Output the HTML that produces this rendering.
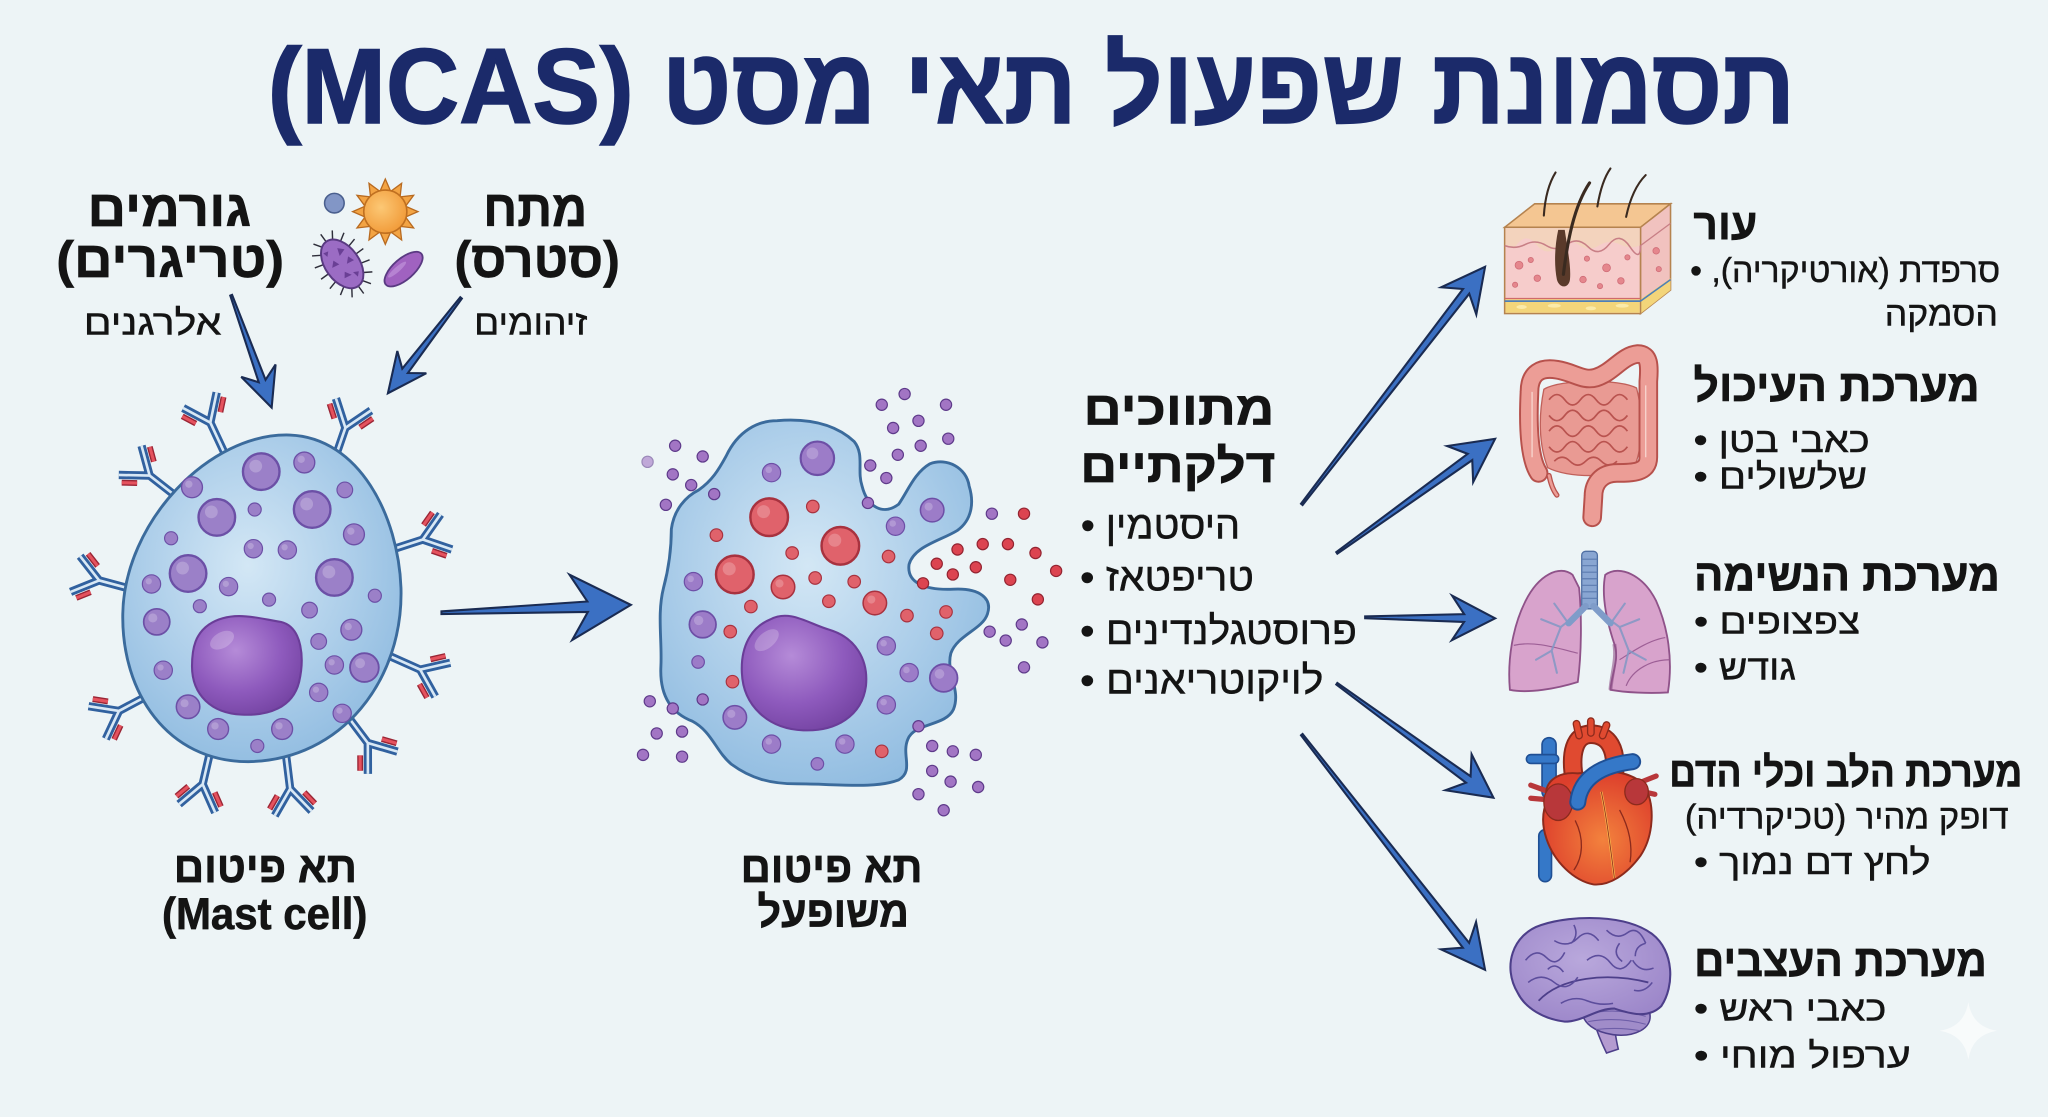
<!DOCTYPE html>
<html lang="he">
<head>
<meta charset="utf-8">
<style>
html,body{margin:0;padding:0;background:#edf4f6;}
body{width:2048px;height:1117px;overflow:hidden;position:relative;}
#stage{position:absolute;left:0;top:0;width:1568px;height:855px;transform-origin:0 0;transform:scale(1.306122,1.306433);background:#edf4f6;}
#art{position:absolute;left:0;top:0;}
.t{position:absolute;white-space:nowrap;line-height:1;font-family:"Liberation Sans","DejaVu Sans",sans-serif;color:#141414;direction:rtl;text-align:right;-webkit-text-stroke:0.35px #141414;}
.t span{display:inline-block;white-space:nowrap;transform-origin:100% 50%;}
.t.l{direction:ltr;text-align:left;}
.t.l span{transform-origin:0 50%;}
.b{font-weight:bold;-webkit-text-stroke:0.5px #141414;}
</style>
</head>
<body>
<div id="stage">
<svg id="art" width="1568" height="855" viewBox="0 0 1568 855" xmlns="http://www.w3.org/2000/svg">
<defs>
  <radialGradient id="cellG" cx="45%" cy="40%" r="65%">
    <stop offset="0" stop-color="#d3e7f5"/>
    <stop offset="0.6" stop-color="#abcde9"/>
    <stop offset="1" stop-color="#8fbbe0"/>
  </radialGradient>
  <radialGradient id="nucG" cx="40%" cy="35%" r="70%">
    <stop offset="0" stop-color="#b58bd8"/>
    <stop offset="0.6" stop-color="#8e5abd"/>
    <stop offset="1" stop-color="#7544a3"/>
  </radialGradient>
  <radialGradient id="sunG" cx="40%" cy="40%" r="65%">
    <stop offset="0" stop-color="#fcc875"/>
    <stop offset="1" stop-color="#f19a38"/>
  </radialGradient>
  <radialGradient id="brainG" cx="45%" cy="40%" r="70%">
    <stop offset="0" stop-color="#b9a8dc"/>
    <stop offset="1" stop-color="#9a84c8"/>
  </radialGradient>
  <radialGradient id="heartG" cx="55%" cy="60%" r="60%">
    <stop offset="0" stop-color="#f3823d"/>
    <stop offset="1" stop-color="#dd3f2c"/>
  </radialGradient>
</defs>

<!-- top icons -->
<g id="icons">
  <circle cx="256" cy="155.5" r="7.5" fill="#8296c6" stroke="#4a5f8e" stroke-width="1.2"/>
  <g id="sun"></g>
  <g id="bact" transform="translate(262,202) rotate(54)">
    <g id="bactHair"></g>
    <ellipse cx="0" cy="0" rx="21" ry="13" fill="#9b6cc4" stroke="#5a3a82" stroke-width="1.5"/>
    <polygon points="-12,-4 -8,-8 -6,-2" fill="#6a3f95"/>
    <polygon points="-2,-7 3,-9 2,-3" fill="#6a3f95"/>
    <polygon points="6,2 11,-1 10,5" fill="#6a3f95"/>
    <polygon points="-6,4 -1,2 -2,8" fill="#6a3f95"/>
    <polygon points="12,-7 15,-4 10,-3" fill="#6a3f95"/>
    <polygon points="-14,3 -11,6 -15,7" fill="#6a3f95"/>
  </g>
  <g transform="translate(309,206) rotate(-41)">
    <ellipse cx="0" cy="0" rx="18" ry="8" fill="#a062c0" stroke="#5a3a82" stroke-width="1.4"/>
    <ellipse cx="-4" cy="-3" rx="9" ry="2" fill="#c49ade" opacity="0.6"/>
  </g>
</g>

<!-- left mast cell -->
<g id="abs"></g>
<path d="M 222 333 C 275 335, 305 395, 307 450 C 309 520, 262 582, 190 583 C 128 583, 93 530, 94 470 C 95 400, 160 331, 222 333 Z" fill="url(#cellG)" stroke="#3b6b9c" stroke-width="2.2"/>
<g id="lgran"></g>
<path d="M160 478 C178 466, 200 474, 215 476 C232 480, 233 505, 229 522 C224 542, 205 548, 185 547 C162 546, 147 532, 147 510 C147 495, 150 485, 160 478 Z" fill="url(#nucG)" stroke="#6a3d98" stroke-width="1.6"/>
<ellipse cx="170" cy="490" rx="10" ry="6" fill="#ffffff" opacity="0.22" transform="rotate(-30 170 490)"/>

<!-- activated mast cell -->
<path d="M 556 349 C 565 330, 580 322, 595 322 C 620 320, 640 325, 654 338 C 662 348, 656 360, 660 372 C 664 388, 676 395, 688 386 C 695 376, 700 362, 712 355 C 725 350, 740 358, 742 372 C 746 385, 744 398, 733 406 C 720 414, 700 418, 696 432 C 694 446, 708 452, 730 451 C 750 450, 760 458, 756 470 C 752 482, 733 486, 728 500 C 724 515, 736 528, 730 543 C 724 556, 700 553, 695 566 C 690 578, 700 590, 688 597 C 670 604, 640 600, 610 600 C 590 600, 575 596, 560 585 C 548 575, 545 560, 530 552 C 512 545, 505 530, 506 510 C 507 490, 503 470, 508 450 C 512 435, 514 420, 514 405 C 516 390, 525 380, 535 375 C 545 368, 550 360, 556 349 Z" fill="url(#cellG)" stroke="#3b6b9c" stroke-width="2.2"/>
<g id="mgran"></g>
<path d="M590 474 C605 466, 620 478, 635 482 C655 488, 665 505, 663 525 C660 548, 640 560, 615 559 C588 558, 569 540, 568 515 C567 495, 575 480, 590 474 Z" fill="url(#nucG)" stroke="#6a3d98" stroke-width="1.6"/>
<ellipse cx="587" cy="490" rx="11" ry="6" fill="#ffffff" opacity="0.22" transform="rotate(-40 587 490)"/>
<g id="mdots"></g>

<!-- arrows -->
<g id="arrows"></g>

<!-- skin -->
<g id="skin">
  <polygon points="1152,174 1256,174 1279,156 1175,156" fill="#f4c692" stroke="#b5834f" stroke-width="1.2"/>
  <polygon points="1256,174 1279,156 1279,222 1256,240" fill="#f1c2bf" stroke="#b5834f" stroke-width="1.2"/>
  <polygon points="1256,229 1279,213 1279,222 1256,240" fill="#f3d57a"/>
  <rect x="1152" y="174" width="104" height="66" fill="#f6cccb" stroke="#b5834f" stroke-width="1.2"/>
  <path d="M1152.6 174.6 H1255.4 V188 Q1248 191 1240 187 T1224 188 T1208 187 T1192 189 T1176 187 T1160 189 L1152.6 188 Z" fill="#f3d3bd"/>
  <path d="M1152 188 Q1160 191 1168 187 T1184 188 T1200 187 T1216 189 T1232 187 T1248 189 T1256 188" fill="none" stroke="#c87f86" stroke-width="1.2"/>
  <path d="M1256 188 L1279 171" stroke="#c87f86" stroke-width="1" fill="none"/>
  <rect x="1152.6" y="229" width="102.8" height="10.4" fill="#f3d57a"/>
  <line x1="1152" y1="228.5" x2="1256" y2="228.5" stroke="#d06a6a" stroke-width="1"/>
  <line x1="1152" y1="230.5" x2="1256" y2="230.5" stroke="#4d7fb9" stroke-width="1.3"/>
  <line x1="1256" y1="230.5" x2="1279" y2="214" stroke="#4d7fb9" stroke-width="1.2"/>
  <g fill="#e5878d" stroke="#cf6c77" stroke-width="0.6">
    <circle cx="1163" cy="203" r="3"/><circle cx="1177" cy="213" r="2.5"/><circle cx="1230" cy="205" r="3"/>
    <circle cx="1241" cy="215" r="2.5"/><circle cx="1212" cy="214" r="2.5"/><circle cx="1172" cy="199" r="2"/>
    <circle cx="1246" cy="197" r="2"/><circle cx="1225" cy="219" r="2"/><circle cx="1268" cy="192" r="2.5"/>
    <circle cx="1270" cy="206" r="2"/><circle cx="1160" cy="218" r="2"/><circle cx="1215" cy="198" r="2"/>
  </g>
  <g fill="#fbeaa8"><ellipse cx="1165" cy="235" rx="4" ry="1.5"/><ellipse cx="1190" cy="234" rx="5" ry="1.5"/><ellipse cx="1218" cy="236" rx="4" ry="1.5"/><ellipse cx="1242" cy="234" rx="5" ry="1.5"/></g>
  <path d="M1193 176 C1190 190, 1190 204, 1192 214 C1194 221, 1201 221, 1202 214 C1203 204, 1200 190, 1198 176 Z" fill="#5a3a2a"/>
  <path d="M1197 210 C1200 185, 1205 158, 1217 140" stroke="#3a2a20" stroke-width="2.4" fill="none" stroke-linecap="round"/>
  <path d="M1182 165 C1183 150, 1186 140, 1191 132" stroke="#3a2a20" stroke-width="1.6" fill="none" stroke-linecap="round"/>
  <path d="M1223 158 C1225 146, 1228 136, 1233 129" stroke="#3a2a20" stroke-width="1.6" fill="none" stroke-linecap="round"/>
  <path d="M1245 166 C1248 152, 1253 141, 1260 134" stroke="#3a2a20" stroke-width="1.6" fill="none" stroke-linecap="round"/>
</g>

<!-- intestine -->
<g id="gut">
  <path d="M1182 298 C1195 290, 1240 290, 1253 297 C1259 320, 1257 345, 1251 358 C1235 366, 1200 366, 1185 358 C1178 340, 1178 318, 1182 298 Z" fill="#e99a93" stroke="#c0605a" stroke-width="1"/>
  <path d="M1186 306 q6 -8 12 0 t12 0 t12 0 t12 0 t12 0 M1186 318 q6 8 12 0 t12 0 t12 0 t12 0 t12 0 M1186 330 q6 -8 12 0 t12 0 t12 0 t12 0 t12 0 M1186 342 q6 8 12 0 t12 0 t12 0 t12 0 t12 0 M1190 353 q6 -6 12 0 t12 0 t12 0 t12 0" fill="none" stroke="#b9534f" stroke-width="1.3"/>
  <path d="M1178 362 C1170 350, 1170 320, 1171 300 C1171 285, 1180 281, 1192 283 C1205 285, 1212 292, 1222 289 C1235 285, 1242 272, 1254 271 C1263 271, 1263 280, 1262 292 L1262 350 C1262 362, 1250 362, 1238 362 C1226 362, 1220 370, 1220 380 L1219 396" fill="none" stroke="#b7514c" stroke-width="15" stroke-linecap="round"/>
  <path d="M1178 362 C1170 350, 1170 320, 1171 300 C1171 285, 1180 281, 1192 283 C1205 285, 1212 292, 1222 289 C1235 285, 1242 272, 1254 271 C1263 271, 1263 280, 1262 292 L1262 350 C1262 362, 1250 362, 1238 362 C1226 362, 1220 370, 1220 380 L1219 396" fill="none" stroke="#ec9d96" stroke-width="12" stroke-linecap="round"/>
  <path d="M1173 300 L1173 350 M1260 295 L1260 350" stroke="#f8d6d0" stroke-width="1" fill="none"/>
  <path d="M1186 364 Q1188 374 1192 379" fill="none" stroke="#b7514c" stroke-width="4" stroke-linecap="round"/>
  <path d="M1186 364 Q1188 374 1192 379" fill="none" stroke="#ec9d96" stroke-width="2" stroke-linecap="round"/>
</g>

<!-- lungs -->
<g id="lungs">
  <path d="M1204 440 C1194 432, 1178 440, 1168 460 C1158 480, 1154 505, 1156 528 C1170 531, 1192 527, 1208 522 C1211 500, 1211 470, 1209 450 Z" fill="#d8a3cc" stroke="#8f5289" stroke-width="1.4"/>
  <path d="M1229 440 C1240 432, 1258 440, 1268 460 C1277 480, 1281 505, 1277 530 C1262 531, 1244 530, 1233 528 C1234 515, 1240 505, 1236 493 C1230 475, 1226 455, 1229 440 Z" fill="#d8a3cc" stroke="#8f5289" stroke-width="1.4"/>
  <path d="M1236 493 C1238 505, 1234 515, 1233 528" stroke="#8f5289" stroke-width="3" fill="none" opacity="0.6"/>
  <path d="M1159 494 C1175 490, 1195 497, 1208 500 M1275 488 C1262 490, 1248 500, 1240 505 M1278 505 C1265 505, 1250 512, 1245 525" fill="none" stroke="#9d5f96" stroke-width="0.9"/>
  <g stroke="#8298c4" stroke-width="1.6" fill="none" stroke-linecap="round" opacity="0.85">
    <path d="M1210 468 L1195 480 L1180 474 M1195 480 L1188 498 L1176 505 M1188 498 L1192 515 M1200 476 L1190 462"/>
    <path d="M1224 468 L1240 480 L1255 474 M1240 480 L1247 498 L1260 505 M1247 498 L1243 515 M1234 476 L1244 462"/>
  </g>
  <rect x="1211" y="422" width="12" height="44" rx="3" fill="#89a6d2" stroke="#4f6fa3" stroke-width="1"/>
  <path d="M1211 428 H1223 M1211 433 H1223 M1211 438 H1223 M1211 443 H1223 M1211 448 H1223 M1211 453 H1223 M1211 458 H1223" stroke="#5c7cb0" stroke-width="0.9"/>
  <path d="M1214 464 L1201 477 M1220 464 L1233 477" stroke="#7f9cc9" stroke-width="5" stroke-linecap="round"/>
</g>

<!-- heart -->
<g id="heart">
  <path d="M1186 570 L1186 606" stroke="#1f4f94" stroke-width="12" stroke-linecap="round"/>
  <path d="M1186 570 L1186 606" stroke="#3578c8" stroke-width="9.5" stroke-linecap="round"/>
  <path d="M1172 581 L1190 581" stroke="#1f4f94" stroke-width="8" stroke-linecap="round"/>
  <path d="M1172 581 L1190 581" stroke="#3578c8" stroke-width="5.5" stroke-linecap="round"/>
  <path d="M1183 640 L1183 670" stroke="#1f4f94" stroke-width="11" stroke-linecap="round"/>
  <path d="M1183 640 L1183 670" stroke="#3578c8" stroke-width="8.5" stroke-linecap="round"/>
  <path d="M1206 600 C1201 576, 1206 562, 1218 562 C1232 562, 1238 574, 1236 592" fill="none" stroke="#8c2a1c" stroke-width="15"/>
  <path d="M1206 600 C1201 576, 1206 562, 1218 562 C1232 562, 1238 574, 1236 592" fill="none" stroke="#e04a30" stroke-width="12"/>
  <path d="M1209 563 L1207 554 M1218 561 L1218 552 M1227 563 L1230 555" stroke="#8c2a1c" stroke-width="6" stroke-linecap="round"/>
  <path d="M1209 563 L1207 554 M1218 561 L1218 552 M1227 563 L1230 555" stroke="#e04a30" stroke-width="4" stroke-linecap="round"/>
  <path d="M1172 601 L1183 605 M1172 611 L1183 612 M1258 598 L1268 594 M1258 606 L1267 608" stroke="#b8373a" stroke-width="4" stroke-linecap="round"/>
  <path d="M1185 612 C1180 600, 1192 590, 1208 592 C1225 590, 1245 588, 1258 600 C1268 615, 1266 640, 1256 655 C1245 670, 1232 678, 1220 677 C1205 674, 1190 660, 1184 642 C1180 630, 1181 620, 1185 612 Z" fill="url(#heartG)" stroke="#8c2a1c" stroke-width="1.5"/>
  <ellipse cx="1193" cy="614" rx="11" ry="14" fill="#b8373a" stroke="#8c2a1c" stroke-width="1"/>
  <ellipse cx="1253" cy="606" rx="9" ry="10" fill="#b8373a" stroke="#8c2a1c" stroke-width="1"/>
  <path d="M1208 614 C1210 596, 1225 586, 1250 583" fill="none" stroke="#1f4f94" stroke-width="13" stroke-linecap="round"/>
  <path d="M1208 614 C1210 596, 1225 586, 1250 583" fill="none" stroke="#3578c8" stroke-width="10" stroke-linecap="round"/>
  <path d="M1226 606 C1230 625, 1233 648, 1236 672" fill="none" stroke="#f6b04a" stroke-width="1.8"/>
  <path d="M1226 606 C1230 625, 1233 648, 1236 672" fill="none" stroke="#8c2a1c" stroke-width="0.6"/>
  <path d="M1206 628 C1213 642, 1212 656, 1205 666 M1240 620 C1248 635, 1250 648, 1248 660" fill="none" stroke="#8c2a1c" stroke-width="1"/>
</g>

<!-- brain -->
<g id="brain">
  <path d="M1218 775 C1222 788, 1226 798, 1230 806 L1239 803 C1237 795, 1236 785, 1234 776 Z" fill="#b49bd0" stroke="#4d3f8a" stroke-width="1.2"/>
  <path d="M1211 772 C1222 763, 1252 763, 1263 775 C1266 788, 1250 794, 1235 792 C1222 790, 1211 784, 1211 772 Z" fill="#a08cc9" stroke="#4d3f8a" stroke-width="1.2"/>
  <path d="M1216 776 Q1238 771 1260 778 M1216 782 Q1238 778 1260 784 M1222 788 Q1240 786 1256 789" fill="none" stroke="#6e5ea8" stroke-width="0.8"/>
  <path d="M1162 760 C1150 740, 1158 715, 1180 708 C1205 700, 1245 700, 1265 715 C1282 728, 1282 755, 1272 770 C1262 780, 1248 776, 1236 772 C1222 772, 1212 782, 1198 782 C1182 780, 1168 772, 1162 760 Z" fill="url(#brainG)" stroke="#4d3f8a" stroke-width="1.6"/>
  <path d="M1178 766 C1195 748, 1230 744, 1262 752" fill="none" stroke="#4d3f8a" stroke-width="1.4"/>
  <path d="M1168 735 q8 -10 16 -2 t14 -4 M1190 720 q10 6 18 -2 t16 2 M1230 712 q8 8 16 2 t14 8 M1170 752 q10 -8 20 0 t18 -4 M1215 735 q10 -8 18 2 t16 -2 M1250 735 q6 10 16 6 M1195 768 q10 -6 20 -2 t20 2 M1265 752 q-6 8 -14 6 M1185 742 q6 -6 12 2 M1240 722 q-6 8 2 14 M1205 708 q4 8 -2 14 M1260 722 q-8 2 -8 10" fill="none" stroke="#5c4d9c" stroke-width="1.2"/>
</g>

<!-- sparkle -->
<path d="M1507 767 Q1510 786 1529 789 Q1510 792 1507 811 Q1504 792 1485 789 Q1504 786 1507 767 Z" fill="#ffffff" opacity="0.6"/>
</svg>

<!-- Title -->
<div class="t b" style="left:205px;top:26px;width:1170px;font-size:82px;color:#1b2a6a;-webkit-text-stroke:1.2px #1b2a6a;"><span>תסמונת שפעול תאי מסט (MCAS)</span></div>

<!-- left labels -->
<div class="t b" style="left:67px;top:140.6px;width:125px;font-size:39px"><span>גורמים</span></div>
<div class="t b" style="left:42px;top:180px;width:175px;font-size:39px"><span>(טריגרים)</span></div>
<div class="t" style="left:64px;top:233.6px;width:106px;font-size:27px"><span>אלרגנים</span></div>
<div class="t b" style="left:370px;top:140.6px;width:80px;font-size:39px"><span>מתח</span></div>
<div class="t b" style="left:348px;top:180px;width:127px;font-size:39px"><span>(סטרס)</span></div>
<div class="t" style="left:363px;top:233.6px;width:87px;font-size:27px"><span>זיהומים</span></div>

<div class="t b" style="left:133px;top:647.1px;width:140px;font-size:33px"><span>תא פיטום</span></div>
<div class="t b l" style="left:124px;top:683.2px;width:157px;font-size:34px"><span>(Mast cell)</span></div>
<div class="t b" style="left:567px;top:647.1px;width:139px;font-size:33px"><span>תא פיטום</span></div>
<div class="t b" style="left:580px;top:681.1px;width:116px;font-size:33px"><span>משופעל</span></div>

<!-- mediators -->
<div class="t b" style="left:829.5px;top:294.9px;width:146.5px;font-size:36px"><span>מתווכים</span></div>
<div class="t b" style="left:826px;top:338.5px;width:150px;font-size:36px"><span>דלקתיים</span></div>
<div class="t" style="left:827px;top:388.1px;width:122.5px;font-size:30px"><span>היסטמין •</span></div>
<div class="t" style="left:827px;top:427.6px;width:133px;font-size:30px"><span>טריפטאז •</span></div>
<div class="t" style="left:827px;top:468.6px;width:212px;font-size:30px"><span>פרוסטגלנדינים •</span></div>
<div class="t" style="left:827px;top:507.1px;width:186px;font-size:30px"><span>לויקוטריאנים •</span></div>

<!-- right column -->
<div class="t b" style="left:1296.6px;top:154.5px;width:48.5px;font-size:33px"><span>עור</span></div>
<div class="t" style="left:1294px;top:193.7px;width:237px;font-size:26px"><span>סרפדת (אורטיקריה), •</span></div>
<div class="t" style="left:1443px;top:226.8px;width:87px;font-size:26px"><span>הסמקה</span></div>

<div class="t b" style="left:1296.6px;top:278.7px;width:219.4px;font-size:34px"><span>מערכת העיכול</span></div>
<div class="t" style="left:1296.6px;top:324.1px;width:135.4px;font-size:27px"><span>כאבי בטן •</span></div>
<div class="t" style="left:1296.6px;top:352.3px;width:133.4px;font-size:27px"><span>שלשולים •</span></div>

<div class="t b" style="left:1297px;top:423.5px;width:234px;font-size:34px"><span>מערכת הנשימה</span></div>
<div class="t" style="left:1297px;top:463.3px;width:127px;font-size:27px"><span>צפצופים •</span></div>
<div class="t" style="left:1297px;top:497.8px;width:78px;font-size:27px"><span>גודש •</span></div>

<div class="t b" style="left:1278.7px;top:575.3px;width:270px;font-size:32px"><span>מערכת הלב וכלי הדם</span></div>
<div class="t" style="left:1290px;top:612.2px;width:248px;font-size:26px"><span>דופק מהיר (טכיקרדיה)</span></div>
<div class="t" style="left:1297px;top:647.1px;width:181px;font-size:27px"><span>לחץ דם נמוך •</span></div>

<div class="t b" style="left:1297px;top:718.5px;width:224px;font-size:34px"><span>מערכת העצבים</span></div>
<div class="t" style="left:1297px;top:759.4px;width:147px;font-size:27px"><span>כאבי ראש •</span></div>
<div class="t" style="left:1297px;top:795.1px;width:166px;font-size:27px"><span>ערפול מוחי •</span></div>
</div>

<script>
(function(){
var NS='http://www.w3.org/2000/svg';
function el(tag,attrs,parent){var e=document.createElementNS(NS,tag);for(var k in attrs)e.setAttribute(k,attrs[k]);parent.appendChild(e);return e;}
function $(id){return document.getElementById(id);}

/* sun */
var sun=$('sun'),pts=[];
for(var i=0;i<24;i++){var a=i*Math.PI/12,r=(i%2==0)?25:16;pts.push((295+r*Math.cos(a)).toFixed(1)+','+(162+r*Math.sin(a)).toFixed(1));}
el('polygon',{points:pts.join(' '),fill:'#f3a444',stroke:'#b86a20','stroke-width':1},sun);
el('circle',{cx:295,cy:162,r:16.5,fill:'url(#sunG)',stroke:'#c07020','stroke-width':1.2},sun);

/* bacterium hairs */
var bh=$('bactHair');
for(var i=0;i<16;i++){var a=i*Math.PI/8,cx=21*Math.cos(a),cy=13*Math.sin(a);var nx=Math.cos(a)/21,ny=Math.sin(a)/13,nl=Math.hypot(nx,ny);nx/=nl;ny/=nl;
el('line',{x1:cx.toFixed(1),y1:cy.toFixed(1),x2:(cx+nx*7).toFixed(1),y2:(cy+ny*7).toFixed(1),stroke:'#2e2e3a','stroke-width':1.1},bh);}

/* antibodies */
var abs=$('abs');
var abList=[[172,347,-25],[256,352,19],[135,380,-52],[101,451,-75],[114,532,-118],[161,575,-167],[219,578,173],[266,548,143],[298,502,114],[299,421,72]];
abList.forEach(function(a){
 var g=el('g',{transform:'translate('+a[0]+','+a[1]+') rotate('+a[2]+') scale(1.18)'},abs);
 var d='M0 4 L0 -22 M0 -22 L-12 -38 M0 -22 L12 -38';
 el('path',{d:d,stroke:'#31619f','stroke-width':5.4,fill:'none','stroke-linejoin':'miter'},g);
 el('path',{d:d,stroke:'#d8e8f5','stroke-width':1.7,fill:'none'},g);
 var r='M-8.8 -25.4 L-14.8 -33.4 M8.8 -25.4 L14.8 -33.4';
 el('path',{d:r,stroke:'#9a2535','stroke-width':3.8,fill:'none'},g);
 el('path',{d:r,stroke:'#e5525e','stroke-width':2,fill:'none'},g);
});

/* granules */
function gran(g,x,y,r,fill,stroke,hl){
 el('circle',{cx:x.toFixed(1),cy:y.toFixed(1),r:r.toFixed(1),fill:fill,stroke:stroke,'stroke-width':Math.max(0.9,r*0.13).toFixed(2)},g);
 if(hl&&r>6)el('circle',{cx:(x-r*0.3).toFixed(1),cy:(y-r*0.3).toFixed(1),r:(r*0.35).toFixed(1),fill:'#ffffff','fill-opacity':0.22},g);
}
var lg=$('lgran');
[[200,361,14],[233,354,8],[166,396,14],[239,390,14],[264,375,6],[147,373,8],[131,412,5],[271,409,8],[194,420,7],[220,421,7],[195,390,5],
 [144,439,14],[116,447,7],[256,442,14],[175,449,7],[206,459,5],[153,464,5],[120,476,10],[237,467,6],[287,456,5],[269,482,8],[244,491,6],
 [256,509,7],[279,511,11],[125,513,7],[244,530,7],[144,541,9],[262,546,7],[167,558,8],[216,558,8],[197,571,5]].forEach(function(p){
 gran(lg,p[0],p[1],p[2],'#9b80c8','#6c50a6',true);
});

/* middle cell granules: zoom coords -> display */
function M(ox,oy){return [474.7+ox*0.3515,275.6+oy*0.2735];}
var mg=$('mgran');
[[430,275,40],[330,315,22],[680,420,28],[600,465,22],[160,620,22],[180,740,32],[170,845,15],[580,800,22],[630,875,22],[705,890,33],[580,965,22],[250,1000,28],[330,1075,22],[490,1075,22],[430,1130,15]].forEach(function(p){
 var q=M(p[0],p[1]);gran(mg,q[0],q[1],p[2]*0.32,'#9c7cc8','#6d4fa6',true);
});
[[325,440,45],[480,520,45],[250,600,45],[355,635,28],[555,680,28],[420,410,15],[210,490,15],[375,540,15],[585,550,15],[425,610,15],[510,620,15],[285,690,15],[455,675,15],[625,715,15],[240,760,15],[690,765,15],[710,705,15],[245,900,15],[570,1095,15]].forEach(function(p){
 var q=M(p[0],p[1]);gran(mg,q[0],q[1],p[2]*0.32,'#e0626b','#a8323f',true);
});
var md=$('mdots');
[[620,95],[570,125],[710,125],[650,170],[595,190],[715,220],[655,240],[605,265],[545,295],[580,330],[540,400],[120,240],[180,270],[115,320],[155,350],[205,375],[100,405],[810,430],[805,760],[875,740],[840,785],[920,790],[880,860],[65,955],[115,975],[180,950],[80,1045],[135,1040],[50,1105],[135,1110],[650,1025],[680,1080],[725,1095],[775,1105],[680,1150],[720,1180],[780,1195],[650,1215],[705,1260]].forEach(function(p){
 var q=M(p[0],p[1]);gran(md,q[0],q[1],4.3,'#a275c4','#5e3a8a',false);
});
var q0=M(60,285);gran(md,q0[0],q0[1],4.3,'#c0a8d8','#9a88b8',false);
[[880,430],[735,530],[790,515],[845,515],[905,540],[690,570],[775,580],[725,600],[660,625],[850,615],[950,590],[910,670]].forEach(function(p){
 var q=M(p[0],p[1]);gran(md,q[0],q[1],4.3,'#dc4450','#932431',false);
});

/* arrows */
var ag=$('arrows');
function arrow(sx,sy,tx,ty,L,W,w0,w1){
 var dx=tx-sx,dy=ty-sy,len=Math.hypot(dx,dy),ux=dx/len,uy=dy/len,nx=-uy,ny=ux;
 var bx=tx-ux*L,by=ty-uy*L,kx=tx-ux*L*0.72,ky=ty-uy*L*0.72;
 var p=[[tx,ty],[bx+nx*W,by+ny*W],[kx+nx*w1/2,ky+ny*w1/2],[sx+nx*w0/2,sy+ny*w0/2],[sx-nx*w0/2,sy-ny*w0/2],[kx-nx*w1/2,ky-ny*w1/2],[bx-nx*W,by-ny*W]];
 el('polygon',{points:p.map(function(v){return v[0].toFixed(1)+','+v[1].toFixed(1);}).join(' '),fill:'#3b70c3',stroke:'#1a2b52','stroke-width':1.6,'stroke-linejoin':'miter'},ag);
}
arrow(177,226,208,312,30,14,1.5,5.5);
arrow(353,228,297,301,30,14,1.5,5.5);
arrow(338,469,483,463,46,25,2,8);
arrow(996.7,386.1,1137,204.2,33,17,1.5,6);
arrow(1023.5,423.2,1144.7,335.9,33,17,1.5,6);
arrow(1045.2,472.5,1144.7,473.3,33,17,1.5,6);
arrow(1023.5,523.4,1143.4,610.6,33,17,1.5,6);
arrow(996.7,562.3,1137,742.3,33,17,1.5,6);

/* fit text widths */
function fit(){
 var ts=document.querySelectorAll('.t');
 for(var i=0;i<ts.length;i++){
  var d=ts[i],s=d.firstElementChild;s.style.transform='none';
  var W=parseFloat(d.style.width),w=s.offsetWidth;
  if(w>0&&W>0)s.style.transform='scaleX('+(W/w).toFixed(4)+')';
 }
}
fit();
if(document.fonts&&document.fonts.ready)document.fonts.ready.then(fit);
})();
</script>
</body>
</html>
